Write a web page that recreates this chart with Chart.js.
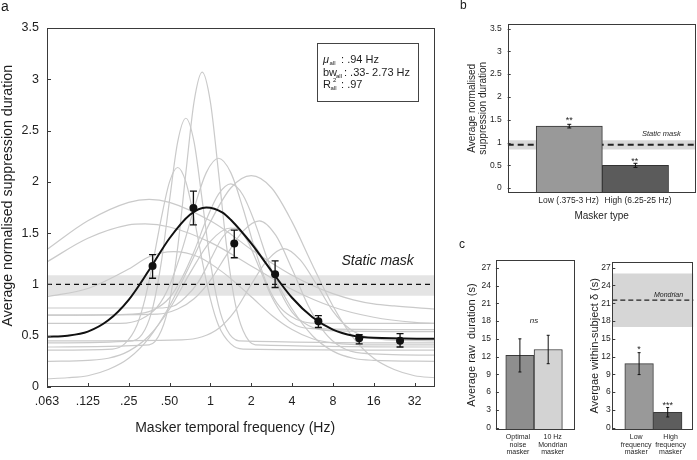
<!DOCTYPE html>
<html><head><meta charset="utf-8">
<script src="https://cdn.jsdelivr.net/npm/chart.js@4.4.1/dist/chart.umd.min.js"></script>
<style>
html,body{margin:0;padding:0;background:#ffffff;}
#page{position:relative;width:697px;height:460px;overflow:hidden;background:#fff;font-family:"Liberation Sans",Arial,Helvetica,sans-serif;color:#1a1a1a;}
#page canvas{position:absolute;}
.panel{position:absolute;line-height:14px;}
</style></head>
<body><div id="page">
<canvas id="chartA" style="left:0;top:0" width="445" height="437"></canvas>
<canvas id="chartB" style="left:466px;top:0" width="231" height="222"></canvas>
<canvas id="chartC1" style="left:465px;top:250px" width="115" height="210"></canvas>
<canvas id="chartC2" style="left:588px;top:250px" width="109" height="210"></canvas>
<div class="panel" style="left:1px;top:-1px;font-size:14px">a</div>
<div class="panel" style="left:460px;top:-2px;font-size:12px">b</div>
<div class="panel" style="left:459px;top:237px;font-size:12px">c</div>
</div>
<script>
// ---------- Panel a data ----------
const freqTicks = [0.0625, 0.125, 0.25, 0.5, 1, 2, 4, 8, 16, 32];
const freqTickLabels = ['.063', '.125', '.25', '.50', '1', '2', '4', '8', '16', '32'];
const durationTicks = [0, 0.5, 1, 1.5, 2, 2.5, 3, 3.5];
const durationTickLabels = ['0', '0.5', '1', '1.5', '2', '2.5', '3', '3.5'];
const maskerHz = [0.375, 0.75, 1.5, 3, 6.25, 12.5, 25];
const meanDuration = [1.18, 1.745, 1.40, 1.10, 0.64, 0.475, 0.45];
const meanErrLow = [1.06, 1.58, 1.26, 0.97, 0.58, 0.42, 0.39];
const meanErrHigh = [1.29, 1.91, 1.53, 1.23, 0.695, 0.51, 0.52];
const fitHz = [0.0625, 0.0884, 0.125, 0.1768, 0.25, 0.3536, 0.5, 0.7071, 0.933, 1.231, 1.414, 2, 2.828, 4, 5.657, 8, 11.31, 16, 45.25];
const fitVal = [0.49, 0.50, 0.54, 0.65, 0.85, 1.14, 1.45, 1.68, 1.75, 1.70, 1.63, 1.40, 1.13, 0.87, 0.68, 0.56, 0.50, 0.48, 0.47];
const staticLevel = 1.0;
const staticBand = [0.89, 1.09];

const indivHz1 = [0.0625, 0.3536, 0.4353, 0.5, 0.5743, 0.6598, 0.7579, 0.8706, 1, 1.149, 1.320, 1.516, 1.741, 2.144, 45.25];
const indivVal1 = [0.39, 0.41, 0.55, 0.83, 1.36, 2.09, 2.78, 3.07, 2.78, 2.09, 1.36, 0.83, 0.55, 0.41, 0.39];
const indivHz2 = [0.0625, 0.2679, 0.3299, 0.3789, 0.4353, 0.5, 0.5743, 0.6598, 0.7579, 0.8706, 1, 1.149, 1.320, 1.625, 45.25];
const indivVal2 = [0.43, 0.45, 0.56, 0.79, 1.22, 1.82, 2.39, 2.62, 2.39, 1.82, 1.22, 0.79, 0.56, 0.45, 0.43];
const indivHz3 = [0.0625, 0.1895, 0.2333, 0.2872, 0.3299, 0.3789, 0.4353, 0.5, 0.5743, 0.6598, 0.7579, 0.8706, 1, 1.149, 1.414, 1.741, 45.25];
const indivVal3 = [0.36, 0.37, 0.42, 0.60, 0.86, 1.23, 1.65, 2.00, 2.14, 2.00, 1.65, 1.23, 0.86, 0.60, 0.42, 0.37, 0.36];
const indivHz4 = [0.0625, 0.2176, 0.3078, 0.4061, 0.5, 0.6156, 0.7579, 0.9330, 1.149, 1.414, 1.741, 2.144, 2.639, 3.249, 4.287, 6.063, 45.25];
const indivVal4 = [0.62, 0.62, 0.66, 0.78, 0.99, 1.33, 1.74, 2.09, 2.23, 2.09, 1.74, 1.33, 0.99, 0.78, 0.66, 0.62, 0.62];
const indivHz5 = [0.0625, 0.2679, 0.3789, 0.5, 0.6156, 0.7579, 0.9330, 1.149, 1.414, 1.741, 2.144, 2.639, 3.249, 4, 5.278, 7.464, 45.25];
const indivVal5 = [0.70, 0.71, 0.75, 0.87, 1.06, 1.32, 1.63, 1.88, 1.98, 1.87, 1.59, 1.24, 0.94, 0.73, 0.60, 0.55, 0.54];
const indivHz6 = [0.0625, 0.0884, 0.125, 0.1768, 0.25, 0.3536, 0.5, 0.7071, 1, 1.414, 2, 2.828, 4, 5.657, 8, 11.31, 16, 22.63, 32, 45.25];
const indivVal6 = [0.08, 0.09, 0.11, 0.17, 0.28, 0.48, 0.79, 1.19, 1.61, 1.94, 2.06, 1.94, 1.61, 1.19, 0.79, 0.48, 0.28, 0.17, 0.11, 0.09];
const indivHz7 = [0.0625, 0.125, 0.1768, 0.25, 0.3536, 0.5, 0.7071, 1, 1.414, 2, 2.828, 4, 5.657, 8, 11.31, 16, 45.25];
const indivVal7 = [0.25, 0.26, 0.28, 0.35, 0.50, 0.76, 1.11, 1.42, 1.55, 1.42, 1.11, 0.76, 0.50, 0.35, 0.28, 0.26, 0.25];
const indivHz8 = [0.0625, 0.125, 0.25, 0.3536, 0.5, 1, 1.414, 2, 2.828, 4, 5.657, 8, 11.31, 16, 22.63, 45.25];
const indivVal8 = [1.34, 1.62, 1.80, 1.83, 1.80, 1.62, 1.49, 1.34, 1.21, 1.09, 0.99, 0.91, 0.85, 0.81, 0.79, 0.76];
const indivHz9 = [0.0625, 0.125, 0.25, 0.3299, 0.5, 1, 2, 4, 8, 16, 32, 45.25];
const indivVal9 = [1.22, 1.45, 1.58, 1.59, 1.56, 1.41, 1.18, 0.95, 0.78, 0.68, 0.63, 0.62];
const indivHz10 = [0.0625, 0.125, 0.25, 0.3536, 0.5359, 0.8123, 1.231, 2, 2.828, 4, 5.657, 8, 16, 45.25];
const indivVal10 = [0.88, 0.96, 1.15, 1.27, 1.32, 1.27, 1.12, 0.88, 0.70, 0.56, 0.47, 0.43, 0.41, 0.41];
const indivHz11 = [0.0625, 0.4061, 0.5359, 0.6598, 0.8123, 1, 1.231, 1.516, 1.866, 2.297, 2.828, 3.482, 4.287, 5.657, 45.25];
const indivVal11 = [0.77, 0.77, 0.79, 0.88, 1.02, 1.24, 1.46, 1.55, 1.43, 1.16, 0.88, 0.69, 0.60, 0.57, 0.56];
const indivHz12 = [0.0625, 0.4061, 0.5743, 0.7579, 1, 1.320, 1.741, 2.297, 3.031, 4, 5.278, 6.964, 9.190, 13.00, 45.25];
const indivVal12 = [0.70, 0.71, 0.76, 0.86, 1.04, 1.29, 1.52, 1.62, 1.48, 1.15, 0.79, 0.53, 0.39, 0.33, 0.31];
const indivHz13 = [0.0625, 0.6156, 0.8706, 1.149, 1.516, 2, 2.639, 3.482, 4.595, 6.063, 8, 10.56, 13.93, 19.70, 45.25];
const indivVal13 = [0.45, 0.46, 0.49, 0.57, 0.74, 1.00, 1.24, 1.35, 1.24, 1.00, 0.74, 0.57, 0.49, 0.46, 0.45];

// ---------- Panel b data ----------
const typeLabels = ['Low (.375-3 Hz)', 'High (6.25-25 Hz)'];
const typeMeans = [1.36, 0.50];
const typeErr = [0.04, 0.045];
const typeStatic = 0.95;
const typeBand = [0.85, 1.05];

// ---------- Panel c data ----------
const rawLabels = [['Optimal', 'noise', 'masker'], ['10 Hz', 'Mondrian', 'masker']];
const rawMeans = [12.2, 13.2];
const rawErr = [2.8, 2.4];
const deltaLabels = [['Low', 'frequency', 'masker'], ['High', 'frequency', 'masker']];
const deltaMeans = [10.8, 2.6];
const deltaErr = [1.85, 0.8];
const deltaMondrian = 21.5;
const deltaBand = [17.0, 26.0];
const secondsTicks = [0, 3, 6, 9, 12, 15, 18, 21, 24, 27];

// ---------- common ----------
const FONT = '"Liberation Sans", Arial, Helvetica, sans-serif';
Chart.defaults.font.family = FONT;
Chart.defaults.color = '#1e1e1e';
Chart.defaults.animation = false;
Chart.defaults.responsive = false;
Chart.defaults.devicePixelRatio = 1;
Chart.defaults.plugins.legend.display = false;
Chart.defaults.plugins.tooltip.enabled = false;
Chart.defaults.elements.point.radius = 0;

const pts = (xs, ys) => xs.map((x, i) => ({x: x, y: ys[i]}));
const barPos = [1, 2];

const framePlugin = {
  id: 'frame',
  afterDatasetsDraw(chart, args, opts) {
    const {ctx, chartArea: a} = chart;
    ctx.save();
    ctx.strokeStyle = '#3a3a3a';
    ctx.lineWidth = 1;
    ctx.strokeRect(Math.round(a.left) + 0.5, Math.round(a.top) + 0.5, Math.round(a.right - a.left) - 1, Math.round(a.bottom - a.top) - 1);
    const len = opts.tickLen || 4;
    ctx.beginPath();
    if (opts.yTicks) chart.scales.y.ticks.forEach(t => {
      const y = Math.round(chart.scales.y.getPixelForValue(t.value)) + 0.5;
      ctx.moveTo(a.left, y); ctx.lineTo(a.left + len, y);
    });
    if (opts.xTicks) chart.scales.x.ticks.forEach(t => {
      const x = Math.round(chart.scales.x.getPixelForValue(t.value)) + 0.5;
      ctx.moveTo(x, a.bottom); ctx.lineTo(x, a.bottom - len);
    });
    ctx.stroke();
    ctx.restore();
  }
};

const errPlugin = {
  id: 'errbars',
  afterDatasetsDraw(chart, args, o) {
    if (!o.xs) return;
    const {ctx} = chart, xs = chart.scales.x, ys = chart.scales.y;
    ctx.save();
    ctx.strokeStyle = o.color || '#111';
    ctx.lineWidth = o.width || 1.2;
    ctx.beginPath();
    o.xs.forEach((xv, i) => {
      const x = xs.getPixelForValue(xv);
      const y1 = ys.getPixelForValue(o.lo[i]);
      const y2 = ys.getPixelForValue(o.hi[i]);
      ctx.moveTo(x, y1); ctx.lineTo(x, y2);
      if (o.cap) {
        ctx.moveTo(x - o.cap, y1); ctx.lineTo(x + o.cap, y1);
        ctx.moveTo(x - o.cap, y2); ctx.lineTo(x + o.cap, y2);
      }
    });
    ctx.stroke();
    ctx.restore();
  }
};

const notePlugin = {
  id: 'notes',
  afterDraw(chart, args, o) {
    const {ctx} = chart;
    (o.items || []).forEach(it => {
      ctx.save();
      ctx.font = it.font;
      ctx.fillStyle = it.color || '#1e1e1e';
      ctx.textAlign = it.align || 'center';
      ctx.textBaseline = 'middle';
      const x = chart.scales.x.getPixelForValue(it.x);
      const y = chart.scales.y.getPixelForValue(it.y);
      ctx.fillText(it.text, x, y);
      ctx.restore();
    });
    if (o.draw) o.draw(chart);
  }
};
Chart.register(framePlugin, errPlugin, notePlugin);

function hiddenGrid() { return {display: false, drawTicks: false}; }

// ---------- Chart a ----------
const greyCurves = [
  [indivHz1, indivVal1], [indivHz2, indivVal2], [indivHz3, indivVal3], [indivHz4, indivVal4],
  [indivHz5, indivVal5], [indivHz6, indivVal6], [indivHz7, indivVal7], [indivHz8, indivVal8],
  [indivHz9, indivVal9], [indivHz10, indivVal10], [indivHz11, indivVal11], [indivHz12, indivVal12],
  [indivHz13, indivVal13]
];
const A_MIN = 0.0625, A_MAX = 45.25;
const dsA = [
  {data: pts([A_MIN, A_MAX], [staticBand[0], staticBand[0]]), borderColor: 'rgba(0,0,0,0)', borderWidth: 0, fill: false, order: 100},
  {data: pts([A_MIN, A_MAX], [staticBand[1], staticBand[1]]), borderColor: 'rgba(0,0,0,0)', borderWidth: 0, fill: '-1', backgroundColor: '#e4e4e4', order: 99}
];
greyCurves.forEach(c => dsA.push({data: pts(c[0], c[1]), borderColor: '#cacaca', borderWidth: 1.2, fill: false, cubicInterpolationMode: 'monotone', order: 50}));
dsA.push({data: pts([A_MIN, A_MAX], [staticLevel, staticLevel]), borderColor: '#111', borderWidth: 1.2, borderDash: [5, 4], fill: false, order: 20});
dsA.push({data: pts(fitHz, fitVal), borderColor: '#111', borderWidth: 2, fill: false, cubicInterpolationMode: 'monotone', order: 10});
dsA.push({data: pts(maskerHz, meanDuration), showLine: false, pointRadius: 4, pointBackgroundColor: '#111', pointBorderColor: '#111', pointBorderWidth: 0, order: 1});

function drawLegendBox(chart) {
  const ctx = chart.ctx;
  ctx.save();
  ctx.strokeStyle = '#444'; ctx.lineWidth = 1;
  ctx.strokeRect(317.5, 43.5, 101, 58);
  ctx.fillStyle = '#1e1e1e'; ctx.textBaseline = 'alphabetic'; ctx.textAlign = 'left';
  const big = '11px ' + FONT, small = '6px ' + FONT;
  ctx.font = 'italic ' + big; ctx.fillText('\u03bc', 323, 63);
  ctx.font = small; ctx.fillText('all', 329.5, 65);
  ctx.font = big; ctx.fillText(' : .94 Hz', 338, 63);
  ctx.fillText('bw', 323, 75.5);
  ctx.font = small; ctx.fillText('all', 336, 77.5);
  ctx.font = big; ctx.fillText(': .33- 2.73 Hz', 344, 75.5);
  ctx.fillText('R', 323, 88);
  ctx.font = small; ctx.fillText('all', 330.5, 90); ctx.fillText('2', 333, 82);
  ctx.font = big; ctx.fillText(' : .97', 338, 88);
  ctx.restore();
}

new Chart(document.getElementById('chartA'), {
  type: 'line',
  data: {datasets: dsA},
  options: {
    layout: {padding: {top: 28, right: 10, left: 0, bottom: 0}},
    scales: {
      x: {
        type: 'logarithmic', min: A_MIN, max: A_MAX,
        afterBuildTicks: s => { s.ticks = freqTicks.map(v => ({value: v})); },
        afterFit: s => { s.height = 50; },
        ticks: {callback: (v, i) => freqTickLabels[i], font: {size: 12.5}, padding: 7.5, maxRotation: 0, autoSkip: false},
        grid: hiddenGrid(), border: {display: false},
        title: {display: true, text: 'Masker temporal frequency (Hz)\u00a0\u00a0\u00a0', font: {size: 14, lineHeight: 1.2}, padding: 0}
      },
      y: {
        type: 'linear', min: 0, max: 3.5,
        afterBuildTicks: s => { s.ticks = durationTicks.map(v => ({value: v})); },
        afterFit: s => { s.width = 47; },
        ticks: {callback: (v, i) => durationTickLabels[i], font: {size: 12.5}, padding: 8},
        grid: hiddenGrid(), border: {display: false},
        title: {display: true, text: '\u00a0\u00a0\u00a0\u00a0\u00a0\u00a0Average normalised suppression duration', font: {size: 14.2, lineHeight: 1.2}, padding: 0}
      }
    },
    plugins: {
      frame: {xTicks: true, yTicks: true, tickLen: 4},
      errbars: {xs: maskerHz, lo: meanErrLow, hi: meanErrHigh, cap: 3.5, width: 1.3},
      notes: {items: [{text: 'Static mask', x: 17.1, y: 1.23, font: 'italic 14px ' + FONT}], draw: drawLegendBox}
    }
  }
});

// ---------- Chart b ----------
const B_MIN = 0.07, B_MAX = 2.91, B_YMIN = -0.1, B_YMAX = 3.6;
new Chart(document.getElementById('chartB'), {
  type: 'bar',
  data: {datasets: [
    {type: 'line', data: pts([B_MIN, B_MAX], [typeBand[0], typeBand[0]]), borderColor: 'rgba(0,0,0,0)', borderWidth: 0, fill: false, order: 30},
    {type: 'line', data: pts([B_MIN, B_MAX], [typeBand[1], typeBand[1]]), borderColor: 'rgba(0,0,0,0)', borderWidth: 0, fill: '-1', backgroundColor: '#d9d9d9', order: 29},
    {type: 'line', data: pts([B_MIN, B_MAX], [typeStatic, typeStatic]), borderColor: '#222', borderWidth: 2, borderDash: [6, 4], fill: false, order: 20},
    {type: 'bar', data: pts(barPos, typeMeans), backgroundColor: ['#999999', '#5b5b5b'], borderColor: '#333', borderWidth: 1, base: B_YMIN, barPercentage: 1, categoryPercentage: 1, order: 1}
  ]},
  options: {
    layout: {padding: {top: 24, right: 1.3, left: 0, bottom: 0}},
    scales: {
      x: {
        type: 'linear', min: B_MIN, max: B_MAX, offset: false,
        afterBuildTicks: s => { s.ticks = [0.99, 2.04].map(v => ({value: v})); },
        afterFit: s => { s.height = 29.3; },
        ticks: {callback: (v, i) => typeLabels[i], font: {size: 8.5}, padding: 3, maxRotation: 0, autoSkip: false},
        grid: hiddenGrid(), border: {display: false},
        title: {display: true, text: 'Masker type', font: {size: 10, lineHeight: 1.2}, padding: 0}
      },
      y: {
        type: 'linear', min: B_YMIN, max: B_YMAX,
        afterBuildTicks: s => { s.ticks = durationTicks.map(v => ({value: v})); },
        afterFit: s => { s.width = 41.7; },
        ticks: {callback: (v, i) => durationTickLabels[i], font: {size: 8.5}, padding: 6},
        grid: hiddenGrid(), border: {display: false},
        title: {display: true, text: ['Average normalised', 'suppression duration'], font: {size: 10, lineHeight: 1.16}, padding: 0}
      }
    },
    plugins: {
      frame: {yTicks: true, tickLen: 3},
      errbars: {xs: barPos, lo: typeMeans.map((m, i) => m - typeErr[i]), hi: typeMeans.map((m, i) => m + typeErr[i]), cap: 2, width: 1},
      notes: {items: [
        {text: '**', x: 1, y: 1.49, font: '9px ' + FONT},
        {text: '**', x: 1.99, y: 0.59, font: '9px ' + FONT},
        {text: 'Static mask', x: 2.39, y: 1.18, font: 'italic 7.5px ' + FONT}
      ]}
    }
  }
});

// ---------- Chart c (left) ----------
const C1_MIN = 0.152, C1_MAX = 2.954, C_YMIN = -0.4, C_YMAX = 28.3;
new Chart(document.getElementById('chartC1'), {
  type: 'bar',
  data: {datasets: [
    {data: pts(barPos, rawMeans), backgroundColor: ['#8e8e8e', '#d3d3d3'], borderColor: '#3a3a3a', borderWidth: 1, base: C_YMIN, barPercentage: 1, categoryPercentage: 1}
  ]},
  options: {
    layout: {padding: {top: 10, right: 4.8, left: 0, bottom: 0}},
    scales: {
      x: {
        type: 'linear', min: C1_MIN, max: C1_MAX, offset: false,
        afterBuildTicks: s => { s.ticks = [0.93, 2.16].map(v => ({value: v})); },
        afterFit: s => { s.height = 30; },
        ticks: {callback: (v, i) => rawLabels[i], font: {size: 7, lineHeight: 1.07}, padding: 3.5, maxRotation: 0, autoSkip: false},
        grid: hiddenGrid(), border: {display: false}
      },
      y: {
        type: 'linear', min: C_YMIN, max: C_YMAX,
        afterBuildTicks: s => { s.ticks = secondsTicks.map(v => ({value: v})); },
        afterFit: s => { s.width = 30.9; },
        ticks: {font: {size: 8.5}, padding: 5},
        grid: hiddenGrid(), border: {display: false},
        title: {display: true, text: 'Average raw  duration (s)', font: {size: 11, lineHeight: 1.2}, padding: 0}
      }
    },
    plugins: {
      frame: {yTicks: true, tickLen: 3},
      errbars: {xs: barPos, lo: rawMeans.map((m, i) => m - rawErr[i]), hi: rawMeans.map((m, i) => m + rawErr[i]), cap: 1.5, width: 1},
      notes: {items: [{text: 'ns', x: 1.5, y: 18.1, font: 'italic 8px ' + FONT}]}
    }
  }
});

// ---------- Chart c (right) ----------
const C2_MIN = 0.063, C2_MAX = 2.905;
new Chart(document.getElementById('chartC2'), {
  type: 'bar',
  data: {datasets: [
    {type: 'line', data: pts([C2_MIN, C2_MAX], [deltaBand[0], deltaBand[0]]), borderColor: 'rgba(0,0,0,0)', borderWidth: 0, fill: false, order: 30},
    {type: 'line', data: pts([C2_MIN, C2_MAX], [deltaBand[1], deltaBand[1]]), borderColor: 'rgba(0,0,0,0)', borderWidth: 0, fill: '-1', backgroundColor: '#d6d6d6', order: 29},
    {type: 'line', data: pts([C2_MIN, C2_MAX], [deltaMondrian, deltaMondrian]), borderColor: '#222', borderWidth: 1.2, borderDash: [5, 3], fill: false, order: 20},
    {type: 'bar', data: pts(barPos, deltaMeans), backgroundColor: ['#999999', '#5d5d5d'], borderColor: '#3a3a3a', borderWidth: 1, base: C_YMIN, barPercentage: 1, categoryPercentage: 1, order: 1}
  ]},
  options: {
    layout: {padding: {top: 11.7, right: 3.4, left: 0, bottom: 0}},
    scales: {
      x: {
        type: 'linear', min: C2_MIN, max: C2_MAX, offset: false,
        afterBuildTicks: s => { s.ticks = [0.9, 2.1].map(v => ({value: v})); },
        afterFit: s => { s.height = 30; },
        ticks: {callback: (v, i) => deltaLabels[i], font: {size: 7, lineHeight: 1.07}, padding: 3.5, maxRotation: 0, autoSkip: false},
        grid: hiddenGrid(), border: {display: false}
      },
      y: {
        type: 'linear', min: C_YMIN, max: 28.0,
        afterBuildTicks: s => { s.ticks = secondsTicks.map(v => ({value: v})); },
        afterFit: s => { s.width = 24.3; },
        ticks: {font: {size: 8.5}, padding: 1.5},
        grid: hiddenGrid(), border: {display: false},
        title: {display: true, text: 'Avergae within-subject \u03b4 (s)', font: {size: 11, lineHeight: 1.2}, padding: 0}
      }
    },
    plugins: {
      frame: {yTicks: true, tickLen: 3},
      errbars: {xs: barPos, lo: deltaMeans.map((m, i) => m - deltaErr[i]), hi: deltaMeans.map((m, i) => m + deltaErr[i]), cap: 1.5, width: 1},
      notes: {items: [
        {text: '*', x: 1, y: 13.2, font: '9px ' + FONT},
        {text: '***', x: 2, y: 3.65, font: '9px ' + FONT},
        {text: 'Mondrian', x: 2.03, y: 22.35, font: 'italic 7px ' + FONT}
      ]}
    }
  }
});
</script>
</body></html>
